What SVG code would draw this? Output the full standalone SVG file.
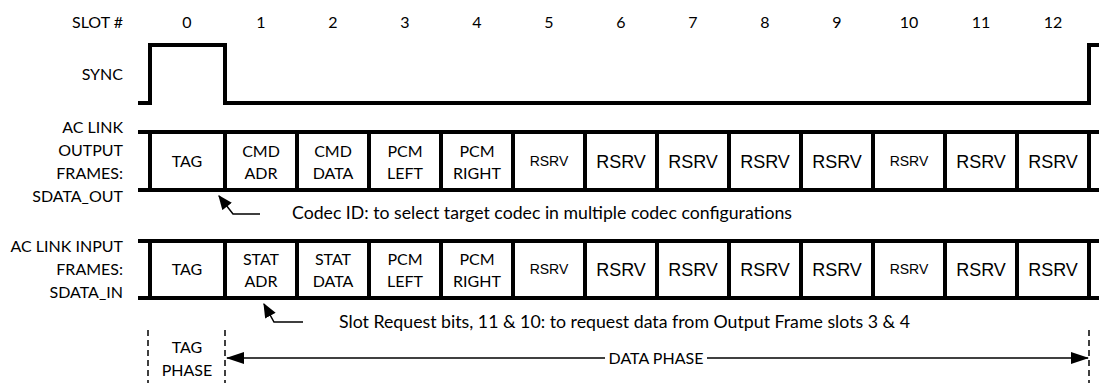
<svg xmlns="http://www.w3.org/2000/svg" width="1099" height="383" viewBox="0 0 1099 383">
<defs>
<style>
.t{font-family:Lato,"Liberation Sans",sans-serif;font-size:16px;fill:#000}
.a{font-family:Lato,"Liberation Sans",sans-serif;font-size:17px;fill:#000}
.m{text-anchor:middle}
.e{text-anchor:end}
.r{font-family:"Liberation Sans",Arial,sans-serif;fill:#000;text-anchor:middle}
.rl{font-size:18px}
.rs{font-size:14px}
.thick{stroke:#000;stroke-width:4;fill:none}
.thin{stroke:#000;stroke-width:1.5;fill:none}
.dash{stroke:#000;stroke-width:1.5;stroke-dasharray:6 4;fill:none}
</style>
<marker id="ah" viewBox="0 0 12 10" refX="11" refY="5" markerWidth="15" markerHeight="12" markerUnits="userSpaceOnUse" orient="auto">
<path d="M0,0 L12,5 L0,10 Z" fill="#000"/>
</marker>
<marker id="ahl" viewBox="0 0 18 12" refX="17" refY="6" markerWidth="18" markerHeight="12" markerUnits="userSpaceOnUse" orient="auto-start-reverse">
<path d="M0,0 L18,6 L0,12 Z" fill="#000"/>
</marker>
</defs>
<rect width="1099" height="383" fill="#fff"/>

<g id="slot-header">
<text class="t e" x="123" y="28">SLOT #</text>
<text class="t m" x="187" y="28">0</text>
<text class="t m" x="261" y="28">1</text>
<text class="t m" x="333" y="28">2</text>
<text class="t m" x="405" y="28">3</text>
<text class="t m" x="477" y="28">4</text>
<text class="t m" x="549" y="28">5</text>
<text class="t m" x="621" y="28">6</text>
<text class="t m" x="693" y="28">7</text>
<text class="t m" x="765" y="28">8</text>
<text class="t m" x="837" y="28">9</text>
<text class="t m" x="909" y="28">10</text>
<text class="t m" x="981" y="28">11</text>
<text class="t m" x="1053" y="28">12</text>
</g>

<g id="sync">
<text class="t e" x="123" y="80">SYNC</text>
<path class="thick" d="M138,103 H150 V45 H225 V103 H1089 V45 H1099"/>
</g>

<g id="output-frame">
<text class="t e" x="123" y="133">AC LINK</text>
<text class="t e" x="123" y="156">OUTPUT</text>
<text class="t e" x="123" y="179">FRAMES:</text>
<text class="t e" x="123" y="202">SDATA_OUT</text>
<path class="thick" d="M138,132 H1099 M138,190 H1099 M150,132 V190 M225,132 V190 M297,132 V190 M369,132 V190 M441,132 V190 M513,132 V190 M585,132 V190 M657,132 V190 M729,132 V190 M801,132 V190 M873,132 V190 M945,132 V190 M1017,132 V190 M1089,132 V190"/>
<text class="t m" x="187" y="167">TAG</text>
<text class="t m" x="261" y="157">CMD</text>
<text class="t m" x="261" y="179">ADR</text>
<text class="t m" x="333" y="157">CMD</text>
<text class="t m" x="333" y="179">DATA</text>
<text class="t m" x="405" y="157">PCM</text>
<text class="t m" x="405" y="179">LEFT</text>
<text class="t m" x="477" y="157">PCM</text>
<text class="t m" x="477" y="179">RIGHT</text>
<text class="r rs" x="549" y="166">RSRV</text>
<text class="r rl" x="621" y="168">RSRV</text>
<text class="r rl" x="693" y="168">RSRV</text>
<text class="r rl" x="765" y="168">RSRV</text>
<text class="r rl" x="837" y="168">RSRV</text>
<text class="r rs" x="909" y="166">RSRV</text>
<text class="r rl" x="981" y="168">RSRV</text>
<text class="r rl" x="1053" y="168">RSRV</text>
</g>

<g id="input-frame">
<text class="t e" x="123" y="252">AC LINK INPUT</text>
<text class="t e" x="123" y="275">FRAMES:</text>
<text class="t e" x="123" y="298">SDATA_IN</text>
<path class="thick" d="M138,241 H1099 M138,298 H1099 M150,241 V298 M225,241 V298 M297,241 V298 M369,241 V298 M441,241 V298 M513,241 V298 M585,241 V298 M657,241 V298 M729,241 V298 M801,241 V298 M873,241 V298 M945,241 V298 M1017,241 V298 M1089,241 V298"/>
<text class="t m" x="187" y="275">TAG</text>
<text class="t m" x="261" y="265">STAT</text>
<text class="t m" x="261" y="287">ADR</text>
<text class="t m" x="333" y="265">STAT</text>
<text class="t m" x="333" y="287">DATA</text>
<text class="t m" x="405" y="265">PCM</text>
<text class="t m" x="405" y="287">LEFT</text>
<text class="t m" x="477" y="265">PCM</text>
<text class="t m" x="477" y="287">RIGHT</text>
<text class="r rs" x="549" y="274">RSRV</text>
<text class="r rl" x="621" y="276">RSRV</text>
<text class="r rl" x="693" y="276">RSRV</text>
<text class="r rl" x="765" y="276">RSRV</text>
<text class="r rl" x="837" y="276">RSRV</text>
<text class="r rs" x="909" y="274">RSRV</text>
<text class="r rl" x="981" y="276">RSRV</text>
<text class="r rl" x="1053" y="276">RSRV</text>
</g>

<g id="phase-labels">
<text class="t m" x="187" y="353">TAG</text>
<text class="t m" x="187" y="376">PHASE</text>
<text class="t m" x="656" y="364">DATA PHASE</text>
</g>

<g id="annotations">
<text class="a" x="292" y="219" textLength="500" lengthAdjust="spacingAndGlyphs">Codec ID: to select target codec in multiple codec configurations</text>
<text class="a" x="339" y="328" textLength="571" lengthAdjust="spacingAndGlyphs">Slot Request bits, 11 &amp; 10: to request data from Output Frame slots 3 &amp; 4</text>
</g>

<g id="connectors">
<polyline class="thin" points="260,214 233,214 219,196" marker-end="url(#ah)"/>
<polyline class="thin" points="303,322 274,322 264,304" marker-end="url(#ah)"/>
<path class="dash" d="M148,330 V383 M225,330 V383 M1089,330 V383"/>
<line class="thin" x1="605" y1="358" x2="227" y2="358" marker-end="url(#ahl)"/>
<line class="thin" x1="707" y1="358" x2="1088" y2="358" marker-end="url(#ahl)"/>
</g>
</svg>
